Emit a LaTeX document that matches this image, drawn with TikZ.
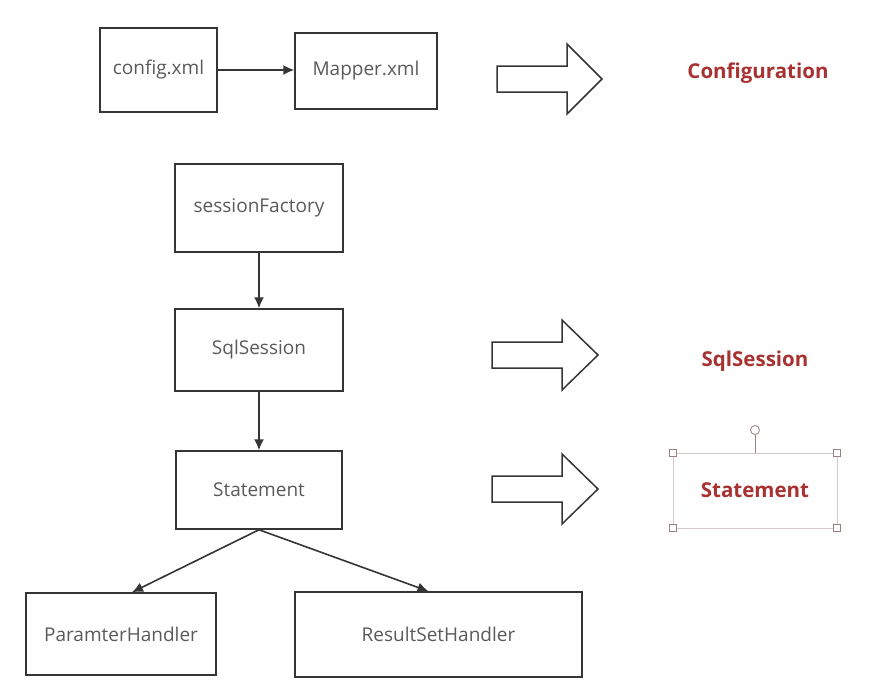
\documentclass[tikz,border=0pt]{standalone}
\usepackage{fontspec}
\setmainfont{Open Sans}
\usepackage{xcolor}
\usepackage{tikz}
\usetikzlibrary{arrows.meta}
\definecolor{linegray}{HTML}{353535}
\definecolor{textgray}{HTML}{5A5A5A}
\definecolor{tagred}{HTML}{A83232}
\definecolor{selgray}{HTML}{D6C8C8}
\definecolor{handlegray}{HTML}{9A8080}

\begin{document}
\begin{tikzpicture}[x=1pt,y=-1pt,
    box/.style={draw=linegray, line width=1.5pt, text=textgray,
      font=\fontsize{19}{22}\selectfont, inner sep=0pt},
    flow/.style={-{Latex[length=11pt,width=10pt]}, line width=1.6pt, draw=linegray},
    hollow/.style={draw=linegray, line width=1.5pt, fill=white},
    tag/.style={text=tagred, font=\fontsize{20.5}{24}\selectfont\bfseries}]
    \useasboundingbox (0,0) rectangle (878,680);
    % boxes
    \node[box, minimum width=117pt, minimum height=84pt] (cfg) at (158.5,70) {config.xml};
    \node[box, minimum width=142pt, minimum height=76pt] (mapper) at (366,71) {Mapper.xml};
    \node[box, minimum width=168pt, minimum height=88pt] (factory) at (259,208) {sessionFactory};
    \node[box, minimum width=168pt, minimum height=82pt] (session) at (259,350) {SqlSession};
    \node[box, minimum width=166pt, minimum height=78pt] (stmt) at (259,490) {Statement};
    \node[box, minimum width=190pt, minimum height=82pt] (param) at (121,634) {ParamterHandler};
    \node[box, minimum width=287pt, minimum height=85pt] (result) at (438.5,634.5) {ResultSetHandler};
    % connectors
    \draw[flow] (cfg.east) -- (cfg.east -| mapper.west);
    \draw[flow] (factory) -- (session);
    \draw[flow] (session) -- (stmt);
    \draw[flow] (stmt.south) -- ([xshift=11pt]param.north);
    \draw[flow] (stmt.south) -- ([xshift=-10pt]result.north);
    % hollow arrows: left, head, tip, middle
    \foreach \l/\h/\t/\m in {497/567/602/79, 492/562/598/355, 492/562/598/489}{
      \draw[hollow] (\l,\m-13) -- (\h,\m-13) -- (\h,\m-35) -- (\t,\m)
        -- (\h,\m+35) -- (\h,\m+13) -- (\l,\m+13) -- cycle;
    };
    % labels
    \node[tag] (conf) at (758,73) {Configuration};
    \node[tag] (sqltag) at (755,361) {SqlSession};
    \node[tag, draw=selgray, line width=0.6pt, minimum width=164pt, minimum height=75pt]
      (stmttag) at (755,490.5) {Statement};
    % selection handles
    \coordinate (rot) at (755,430);
    \draw[handlegray, line width=1pt] (stmttag.north) -- ([yshift=4.5pt]rot);
    \draw[handlegray, fill=white, line width=0.8pt] (rot) circle (4.5pt);
    \foreach \c in {north west, north east, south west, south east}{
      \draw[handlegray, fill=white, line width=0.8pt] ([shift={(-3.5pt,-3.5pt)}]stmttag.\c) rectangle ++(7pt,7pt);
    };
\end{tikzpicture}
\end{document}
